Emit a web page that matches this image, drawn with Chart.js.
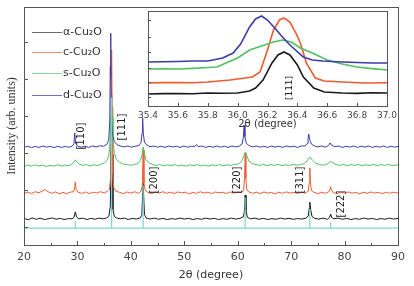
<!DOCTYPE html>
<html>
<head>
<meta charset="utf-8">
<script src="https://cdn.jsdelivr.net/npm/chart.js@4.4.0/dist/chart.umd.min.js"></script>
<style>
  html, body { margin: 0; padding: 0; background: #fff; }
  #wrap { position: relative; width: 414px; height: 286px; }
  #wrap canvas { position: absolute; left: 0; top: 0; }
</style>
</head>
<body>
<div id="wrap">
  <canvas id="mainChart" width="414" height="286"></canvas>
  <canvas id="insetChart" width="414" height="286"></canvas>
</div>
<script>
// ---- data (2theta in degree, intensity offset per sample) ----
const seriesNames = ['α-Cu₂O', 'c-Cu₂O', 's-Cu₂O', 'd-Cu₂O'];
const twoThetaTicks = [20, 30, 40, 50, 60, 70, 80, 90];
const insetTicks = [35.4, 35.6, 35.8, 36.0, 36.2, 36.4, 36.6, 36.8, 37.0];
const intensityTicks = [7.6, 23.1, 38.7, 54.2, 69.7, 85.2];
const insetIntensityTicks = [9, 24, 38, 54, 69, 86];

// JCPDS reference sticks
const refPattern = [[20,7.1],[29.6,7.1],[29.6,10],[29.6,7.1],[36.4,7.1],[36.4,62],[36.4,7.1],[42.3,7.1],[42.3,25],[42.3,7.1],
  [61.4,7.1],[61.4,20],[61.4,7.1],[73.5,7.1],[73.5,15],[73.5,7.1],[77.4,7.1],[77.4,9.5],[77.4,7.1],[90,7.1]];

const oCu2O = [[20,11.2],[20.8,10.6],[21.5,11.4],[22.3,10.8],[23,11.3],[23.8,10.7],[24.5,11.0],[25.3,11.4],[26,10.8],[26.8,11.2],
  [27.5,10.7],[28.3,11.1],[29,11.0],[29.35,11.6],[29.6,13.9],[29.85,11.8],[30.2,11.0],[31,11.3],[31.8,10.7],[32.5,11.2],[33.3,10.8],
  [34,11.3],[34.8,11.0],[35.5,11.4],[35.9,12.2],[36.15,16],[36.3,40],[36.4,63],[36.5,38],[36.65,15],[36.9,12],[37.3,11.4],[38,11.0],
  [38.8,11.3],[39.5,10.7],[40.3,11.2],[41,10.9],[41.7,11.3],[42.05,12.5],[42.3,26],[42.55,12.8],[42.9,11.3],[43.6,10.9],[44.4,11.3],
  [45.2,10.8],[46,11.2],[46.8,10.7],[47.6,11.1],[48.4,10.8],[49.2,11.3],[50,10.9],[50.8,11.2],[51.6,10.7],[52.4,11.1],[53.2,10.8],
  [54,11.3],[54.8,10.9],[55.6,11.2],[56.4,10.7],[57.2,11.1],[58,10.8],[58.8,11.3],[59.6,10.9],[60.4,11.2],[61.05,11.8],[61.25,14],
  [61.4,21],[61.55,14.5],[61.8,11.6],[62.4,11.0],[63.2,11.3],[64,10.8],[64.8,11.2],[65.6,10.7],[66.4,11.1],[67.2,10.8],[68,11.3],
  [68.8,10.9],[69.6,11.2],[70.4,10.8],[71.2,11.1],[72,10.9],[72.8,11.3],[73.2,12.2],[73.4,15.5],[73.5,18],[73.65,15],[73.9,12],
  [74.4,11.2],[75.2,10.9],[76,11.3],[76.8,10.8],[77.2,11.6],[77.4,13],[77.6,11.5],[78,11.0],[78.8,11.3],[79.6,10.8],[80.4,11.2],
  [81.2,10.7],[82,11.1],[82.8,10.8],[83.6,11.3],[84.4,10.9],[85.2,11.2],[86,10.7],[86.8,11.1],[87.6,10.8],[88.4,11.3],[89.2,10.9],[90,11.2]];

const cCu2O = [[20,21.5],[20.7,22.3],[21.4,21.6],[22.1,22.4],[22.8,21.9],[23.5,22.8],[24,23.2],[24.5,22.4],[25.2,21.7],[25.9,22.3],
  [26.6,21.5],[27.3,22.1],[28,21.6],[28.7,22.2],[29.3,22.4],[29.5,24.5],[29.6,26.5],[29.75,23.4],[30.1,22.2],[30.8,21.7],[31.5,22.3],
  [32.2,21.6],[32.9,22.2],[33.6,21.8],[34.3,22.4],[35,21.9],[35.6,22.5],[36.0,23.4],[36.2,28],[36.33,60],[36.4,82],[36.48,58],
  [36.6,30],[36.8,24],[37.2,22.6],[37.9,22.1],[38.6,21.6],[39.3,22.3],[40,21.8],[40.7,22.4],[41.4,21.7],[41.9,22.6],[42.15,25],
  [42.3,40],[42.45,26],[42.7,23],[43.2,22.1],[43.9,21.6],[44.6,22.3],[45.3,21.8],[46,22.4],[46.7,21.7],[47.4,22.2],[48.1,21.6],
  [48.8,22.3],[49.5,21.9],[50.2,22.2],[50.9,21.5],[51.6,22.1],[52.3,21.7],[53,22.4],[53.7,21.8],[54.4,22.2],[55.1,21.6],[55.8,22.3],
  [56.5,21.9],[57.2,22.2],[57.9,21.6],[58.6,22.3],[59.3,21.8],[60,22.2],[60.7,22.0],[61.1,23],[61.28,28],[61.4,38.7],[61.52,28],
  [61.7,23.2],[62.1,22.3],[62.8,21.7],[63.5,22.2],[64.2,21.6],[64.9,22.3],[65.6,21.8],[66.3,22.1],[67,21.5],[67.7,22.2],[68.4,21.7],
  [69.1,22.3],[69.8,21.8],[70.5,22.1],[71.2,21.6],[71.9,22.2],[72.6,21.8],[73.2,22.6],[73.38,26],[73.5,32.4],[73.62,26],[73.8,22.8],
  [74.3,22.1],[75,21.6],[75.7,22.2],[76.4,21.7],[77.0,22.3],[77.25,23.2],[77.4,24.5],[77.55,23],[77.9,22.0],[78.6,21.6],[79.3,22.2],
  [80,21.7],[80.7,22.3],[81.4,21.8],[82.1,22.1],[82.8,21.5],[83.5,22.2],[84.2,21.7],[84.9,22.3],[85.6,21.8],[86.3,22.1],[87,21.6],
  [87.7,22.2],[88.4,21.7],[89.1,22.2],[90,21.8]];

const sCu2O = [[20,33.0],[20.7,33.6],[21.4,33.1],[22.1,33.7],[22.8,33.2],[23.5,33.6],[24.2,33.0],[24.9,33.5],[25.6,33.1],[26.3,33.7],
  [27,33.2],[27.7,33.6],[28.4,33.3],[28.9,33.9],[29.3,34.8],[29.6,35.8],[29.9,34.9],[30.3,34.0],[31,33.4],[31.7,33.8],[32.4,33.2],
  [33.1,33.7],[33.8,33.4],[34.5,34.0],[35.1,34.5],[35.6,35.8],[35.9,38],[36.15,45],[36.3,55],[36.4,61],[36.5,54],[36.65,44],
  [36.9,38.5],[37.3,36],[37.9,34.7],[38.6,34.0],[39.3,33.8],[40,33.5],[40.7,33.9],[41.3,34.2],[41.8,35.5],[42.1,38],[42.3,41.2],
  [42.5,38.5],[42.8,36],[43.3,34.6],[44,33.9],[44.7,33.4],[45.4,33.8],[46.1,33.2],[46.8,33.7],[47.5,33.3],[48.2,33.8],[48.9,33.2],
  [49.6,33.6],[50.3,33.1],[51,33.7],[51.7,33.3],[52.4,33.8],[53.1,33.2],[53.8,33.6],[54.5,33.1],[55.2,33.7],[55.9,33.3],[56.6,33.8],
  [57.3,33.3],[58,33.7],[58.7,33.4],[59.4,33.9],[60.1,34.0],[60.7,35],[61.1,37.2],[61.4,39],[61.7,37.4],[62.1,35.3],[62.7,34.2],
  [63.4,33.8],[64.1,33.4],[64.8,33.9],[65.5,33.3],[66.2,33.8],[66.9,33.4],[67.6,33.9],[68.3,33.3],[69,33.7],[69.7,33.4],[70.4,33.9],
  [71.1,33.5],[71.8,33.9],[72.5,34.2],[73,35.4],[73.5,37],[74,35.6],[74.6,34.3],[75.3,33.8],[76,33.5],[76.7,34.0],[77.1,34.6],
  [77.4,35.1],[77.8,34.5],[78.4,33.8],[79.1,33.4],[79.8,33.9],[80.5,33.3],[81.2,33.8],[81.9,33.4],[82.6,33.9],[83.3,33.3],[84,33.7],
  [84.7,33.4],[85.4,33.9],[86.1,33.3],[86.8,33.8],[87.5,33.4],[88.2,33.9],[88.9,33.4],[90,33.7]];

const dCu2O = [[20,41.0],[20.7,41.5],[21.4,40.9],[22.1,41.4],[22.8,41.0],[23.5,41.6],[24.2,41.1],[24.9,41.4],[25.6,40.9],[26.3,41.5],
  [27,41.0],[27.7,41.4],[28.4,41.1],[29,41.5],[29.35,42.5],[29.5,47.1],[29.65,42.8],[30,41.6],[30.7,41.1],[31.4,41.5],[32.1,41.0],
  [32.8,41.6],[33.5,41.2],[34.2,41.7],[34.9,41.5],[35.5,42.3],[35.85,44],[36.05,52],[36.15,75],[36.2,89],[36.28,70],[36.4,52],
  [36.6,46],[36.9,43.5],[37.4,42.2],[38,41.6],[38.7,41.2],[39.4,41.6],[40.1,41.1],[40.8,41.5],[41.5,41.8],[41.9,43],[42.1,47],
  [42.2,53.4],[42.32,47],[42.55,43.2],[43,42],[43.6,41.3],[44.3,41.6],[45,41.1],[45.7,41.5],[46.4,41.0],[47.1,41.6],[47.8,41.2],
  [48.5,41.5],[49.2,41.0],[49.9,41.6],[50.6,41.1],[51.3,41.5],[52,41.4],[52.3,42.2],[52.6,41.3],[53.3,41.6],[54,41.0],[54.7,41.5],
  [55.4,41.1],[56.1,41.6],[56.8,41.1],[57.5,41.5],[58.2,41.0],[58.9,41.6],[59.6,41.2],[60.3,41.6],[60.8,42.4],[61.05,45],[61.2,50.4],
  [61.35,45.5],[61.6,42.8],[62.1,41.8],[62.8,41.2],[63.5,41.6],[64.2,41.1],[64.9,41.5],[65.6,41.0],[66.3,41.6],[67,41.1],[67.7,41.5],
  [68.4,41.0],[69.1,41.6],[69.8,41.2],[70.5,41.5],[71.2,41.0],[71.9,41.6],[72.6,41.6],[73,42.6],[73.15,44.5],[73.3,46.6],[73.5,44],
  [73.8,42.4],[74.3,41.7],[75,41.2],[75.7,41.6],[76.4,41.1],[77,41.8],[77.3,42.9],[77.6,41.9],[78.2,41.3],[78.9,41.6],[79.6,41.0],
  [80.3,41.5],[81,41.1],[81.7,41.6],[82.4,41.0],[83.1,41.5],[83.8,41.1],[84.5,41.6],[85.2,41.0],[85.9,41.5],[86.6,41.1],[87.3,41.6],
  [88,41.0],[88.7,41.5],[89.4,41.1],[90,41.4]];

// inset: zoom on the (111) reflection
const insetO = [[35.4,12],[35.5,12.4],[35.6,12.5],[35.7,12.2],[35.8,13],[35.9,12.8],[36.0,13],[36.08,15],[36.12,18],[36.17,26],
  [36.23,43],[36.27,51],[36.31,54],[36.35,51],[36.4,41],[36.44,29],[36.51,18],[36.58,14],[36.7,13],[36.8,12.6],[36.9,13.2],[37.0,13]];
const insetC = [[35.4,23],[35.5,23.4],[35.6,23.5],[35.7,23.2],[35.8,24],[35.95,26],[36.05,28],[36.1,29],[36.15,34],[36.2,56],
  [36.24,76],[36.28,86],[36.31,88],[36.35,84],[36.39,73],[36.42,63],[36.46,43],[36.52,28],[36.58,25],[36.7,24],[36.85,23],[37.0,23.2]];
const insetS = [[35.4,37],[35.5,37.3],[35.6,37],[35.7,37.6],[35.8,38.5],[35.86,39],[36.0,48],[36.08,56],[36.16,60],[36.24,64],
  [36.3,66],[36.36,64],[36.42,58],[36.5,53],[36.6,46],[36.7,42],[36.8,39],[36.9,37.4],[37.0,36]];
const insetD = [[35.4,44],[35.5,44.2],[35.6,44.5],[35.7,45],[35.8,45],[35.9,48],[35.97,53],[36.02,62],[36.08,79],[36.12,87],
  [36.16,90],[36.2,86],[36.26,76],[36.3,69],[36.35,61],[36.44,49],[36.5,46],[36.57,45],[36.7,44],[36.8,43.5],[36.9,43],[37.0,43]];

// reflection labels
const hklText = ['[110]', '[111]', '[200]', '[220]', '[311]', '[222]'];
const hklAt = [[30.7, 45.8], [38.5, 49.6], [44.5, 27.3], [59.9, 27.3], [71.8, 27.3], [79.5, 17.2]];

const colors = {
  o: '#1a1a1a', c: '#f05a30', s: '#50c060', d: '#3c3caa', ref: '#7fd6d6'
};
const legendColors = ['#6a6a6a', '#f08a70', '#88d898', '#7070b8'];
const frameColor = '#555';

function line(data, color, order, width) {
  return {
    data: data, borderColor: color, backgroundColor: color,
    borderWidth: width, pointRadius: 0, showLine: true, tension: 0, order: order
  };
}

// draws box + inner ticks
function drawFrame(chart, xTicks, yTicks, tickLen) {
  const ctx = chart.ctx, a = chart.chartArea;
  const xs = chart.scales.x, ys = chart.scales.y;
  ctx.save();
  ctx.strokeStyle = frameColor;
  ctx.lineWidth = 1;
  ctx.strokeRect(Math.round(a.left) + 0.5, Math.round(a.top) + 0.5, Math.round(a.right - a.left), Math.round(a.bottom - a.top));
  ctx.beginPath();
  xTicks.forEach(v => {
    const px = Math.round(xs.getPixelForValue(v)) + 0.5;
    ctx.moveTo(px, a.bottom); ctx.lineTo(px, a.bottom - tickLen);
  });
  yTicks.forEach(v => {
    const py = Math.round(ys.getPixelForValue(v)) + 0.5;
    ctx.moveTo(a.left, py); ctx.lineTo(a.left + tickLen, py);
  });
  ctx.stroke();
  ctx.restore();
}

function drawRotated(ctx, text, x, y, font) {
  ctx.save();
  ctx.translate(x, y);
  ctx.rotate(-Math.PI / 2);
  ctx.font = font;
  ctx.fillStyle = '#222';
  ctx.textAlign = 'center';
  ctx.textBaseline = 'middle';
  ctx.fillText(text, 0, 0);
  ctx.restore();
}

const mainPlugin = {
  id: 'mainDeco',
  afterDatasetsDraw(chart) {
    const ctx = chart.ctx;
    const minorX = [];
    for (let i = 0; i < twoThetaTicks.length - 1; i++) minorX.push(twoThetaTicks[i] + 5);
    drawFrame(chart, twoThetaTicks, intensityTicks, 4);
    drawFrame(chart, minorX, [], 2);

    // legend, top left inside the box
    ctx.save();
    ctx.font = '11px "DejaVu Sans"';
    ctx.textBaseline = 'middle';
    const rows = [32, 52, 73, 95];
    seriesNames.forEach((name, i) => {
      ctx.strokeStyle = legendColors[i];
      ctx.lineWidth = 1;
      ctx.beginPath();
      ctx.moveTo(32, rows[i] + 0.5); ctx.lineTo(62, rows[i] + 0.5);
      ctx.stroke();
      ctx.fillStyle = '#333';
      ctx.fillText(name, 63, rows[i]);
    });
    ctx.restore();

    hklText.forEach((t, i) => {
      drawRotated(ctx, t, chart.scales.x.getPixelForValue(hklAt[i][0]),
        chart.scales.y.getPixelForValue(hklAt[i][1]), '10px "DejaVu Sans"');
    });
  }
};

const mainChart = new Chart(document.getElementById('mainChart'), {
  type: 'scatter',
  data: {
    datasets: [
      line(refPattern, colors.ref, 0, 1.2),
      line(dCu2O, colors.d, 1, 1),
      line(sCu2O, colors.s, 2, 1),
      line(cCu2O, colors.c, 3, 1),
      line(oCu2O, colors.o, 4, 1)
    ]
  },
  options: {
    responsive: false,
    animation: false,
    layout: { padding: { left: 0, right: 16, top: 7, bottom: 0 } },
    plugins: { legend: { display: false }, tooltip: { enabled: false } },
    scales: {
      x: {
        type: 'linear', min: 20, max: 90,
        afterBuildTicks: s => { s.ticks = twoThetaTicks.map(v => ({ value: v })); },
        afterFit: s => { s.height = 41; },
        grid: { display: false, drawTicks: false }, border: { display: false },
        ticks: { font: { family: 'DejaVu Sans', size: 11 }, color: '#444', padding: 6, maxRotation: 0 },
        title: { display: true, text: '2θ (degree)', font: { family: 'DejaVu Sans', size: 11 }, color: '#333', padding: { top: 0, bottom: 4 } }
      },
      y: {
        min: 0, max: 100,
        afterFit: s => { s.width = 24; },
        grid: { display: false, drawTicks: false }, border: { display: false },
        ticks: { display: false },
        title: { display: true, text: 'Intensity (arb. units)', font: { family: 'Liberation Serif', size: 12 }, color: '#333', padding: { top: 5, bottom: 0 } }
      }
    }
  },
  plugins: [mainPlugin]
});

const insetPlugin = {
  id: 'insetDeco',
  beforeDatasetsDraw(chart) {
    const ctx = chart.ctx, a = chart.chartArea;
    ctx.save();
    ctx.fillStyle = '#fff';
    ctx.fillRect(a.left, a.top, a.right - a.left, a.bottom - a.top);
    ctx.restore();
  },
  afterDatasetsDraw(chart) {
    drawFrame(chart, insetTicks, insetIntensityTicks, 3);
    drawRotated(chart.ctx, '[111]', chart.scales.x.getPixelForValue(36.35),
      chart.scales.y.getPixelForValue(18), '9px "DejaVu Sans"');
  }
};

const insetChart = new Chart(document.getElementById('insetChart'), {
  type: 'scatter',
  data: {
    datasets: [
      line(insetD, colors.d, 1, 1.6),
      line(insetS, colors.s, 2, 1.6),
      line(insetC, colors.c, 3, 1.6),
      line(insetO, colors.o, 4, 1.6)
    ]
  },
  options: {
    responsive: false,
    animation: false,
    layout: { padding: { left: 148, right: 27, top: 11, bottom: 150 } },
    plugins: { legend: { display: false }, tooltip: { enabled: false } },
    scales: {
      x: {
        type: 'linear', min: 35.4, max: 37.0,
        afterBuildTicks: s => { s.ticks = insetTicks.map(v => ({ value: v })); },
        afterFit: s => { s.height = 30; },
        grid: { display: false, drawTicks: false }, border: { display: false },
        ticks: { font: { family: 'DejaVu Sans', size: 9 }, color: '#444', padding: 4, maxRotation: 0,
          callback: v => v.toFixed(1) },
        title: { display: true, text: '2θ (degree)', font: { family: 'DejaVu Sans', size: 10 }, color: '#333', padding: { top: 0, bottom: 6 } }
      },
      y: { display: false, min: 0, max: 95 }
    }
  },
  plugins: [insetPlugin]
});
</script>
</body>
</html>
